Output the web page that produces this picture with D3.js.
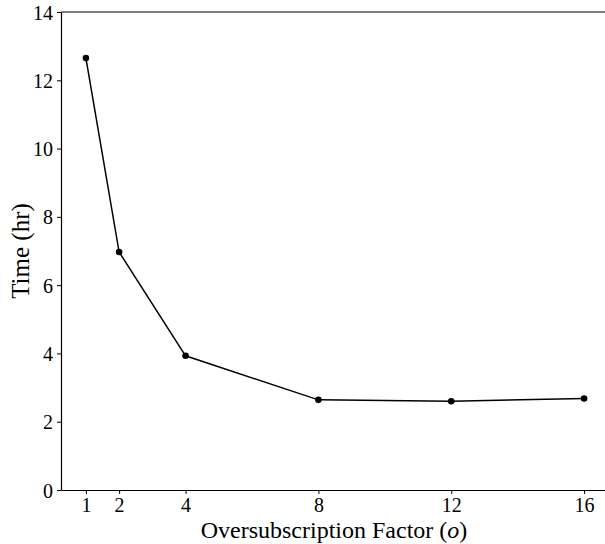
<!DOCTYPE html>
<html>
<head>
<meta charset="utf-8">
<script src="https://cdn.jsdelivr.net/npm/d3@7"></script>
<style>
  body { margin: 0; background: #fff; }
  text { font-family: "Liberation Serif", "DejaVu Serif", serif; }
</style>
</head>
<body>
<script>
    //Global variables
        const width = 605;
        const height = 544;
        const plotLeft = 61, plotRight = 609, plotTop = 12, plotBottom = 490;

    //Data
        const factors = [1, 2, 4, 8, 12, 16];
        const hours = [12.65, 6.97, 3.93, 2.64, 2.60, 2.68];
        const xTicks = [1, 2, 4, 8, 12, 16];
        const yTicks = [0, 2, 4, 6, 8, 10, 12, 14];

        const data = factors.map((f, i) => ({f: f, h: hours[i]}));

    //Scales
        const xScale = d3.scaleLinear()
                        .domain([0.25, 16.75])
                        .range([plotLeft, plotRight]);

        const yScale = d3.scaleLinear()
                        .domain([0, 14])
                        .range([plotBottom, plotTop]);

    //SVG element
        const svg = d3.select("body")
                    .append("svg")
                    .attr("width", width)
                    .attr("height", height);

    //Axes
        const bottomAxis = d3.axisBottom(xScale)
                            .tickValues(xTicks)
                            .tickSize(4)
                            .tickPadding(4)
                            .tickSizeOuter(0);

        const leftAxis = d3.axisLeft(yScale)
                           .tickValues(yTicks)
                           .tickSize(4)
                           .tickPadding(4)
                           .tickSizeOuter(0);

        const gx = svg.append("g")
            .attr("transform", "translate(0," + plotBottom + ")")
            .call(bottomAxis);

        const gy = svg.append("g")
            .attr("transform", "translate(" + plotLeft + ",0)")
            .call(leftAxis);

        [gx, gy].forEach(g => {
            g.selectAll("text").attr("font-size", 20).attr("fill", "#000")
             .style("font-family", "'Liberation Serif', serif");
            g.selectAll("line").attr("stroke", "#000").attr("stroke-width", 1);
            g.select(".domain").attr("stroke", "#000").attr("stroke-width", 1.2);
        });
        gy.selectAll("text").attr("dy", "0.35em");

        //Top spine
        svg.append("line")
            .attr("x1", plotLeft).attr("x2", plotRight)
            .attr("y1", plotTop).attr("y2", plotTop)
            .attr("stroke", "#000").attr("stroke-width", 1.2);

    //Line and points
        const line = d3.line()
                       .x(d => xScale(d.f))
                       .y(d => yScale(d.h));

        svg.append("path")
            .datum(data)
            .attr("d", line)
            .attr("fill", "none")
            .attr("stroke", "#000")
            .attr("stroke-width", 1.5);

        svg.selectAll("circle")
            .data(data)
            .enter()
            .append("circle")
            .attr("cx", d => xScale(d.f))
            .attr("cy", d => yScale(d.h))
            .attr("r", 3.3)
            .attr("fill", "#000");

    //Axis labels
        const xl = svg.append("text")
            .attr("x", 334)
            .attr("y", 538)
            .attr("text-anchor", "middle")
            .attr("font-size", 24)
            .text("Oversubscription Factor (");
        xl.append("tspan").attr("font-style", "italic").text("o");
        xl.append("tspan").text(")");

        svg.append("text")
            .attr("transform", "translate(29," + ((plotTop + plotBottom) / 2) + ") rotate(-90)")
            .attr("text-anchor", "middle")
            .attr("font-size", 25)
            .text("Time (hr)");
</script>
</body>
</html>
